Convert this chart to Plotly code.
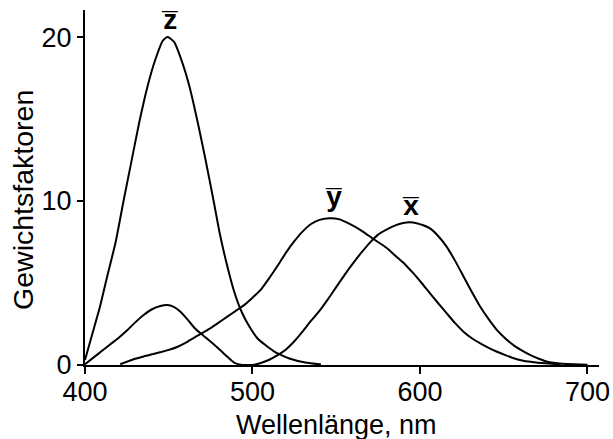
import plotly.graph_objects as go

# Wavelengths (nm) and weights
z_wl = [400, 404.1, 408.8, 413.5, 418.3, 423.0, 427.7, 432.4, 437.1, 441.9, 446.6, 449.4, 453.2,
        457.9, 462.6, 467.3, 472.0, 476.8, 480.5, 484.3, 489.0, 493.7, 498.4, 503.2, 507.9, 512.6,
        517.3, 522.0, 531.5, 540.9]
z_val = [0.3, 1.8, 3.5, 5.5, 7.5, 10.0, 12.4, 14.8, 16.9, 18.6, 19.8, 20.0, 19.7, 18.5, 16.9, 14.8,
         12.5, 10.0, 8.0, 6.3, 4.5, 3.2, 2.3, 1.6, 1.2, 0.85, 0.6, 0.4, 0.15, 0.03]

x_wl = [400, 405, 410, 415, 420, 425, 430, 435, 440, 445, 449, 453, 457, 461, 465, 469, 473, 477,
        481, 485, 489, 493, 497, 500, 505, 510, 515, 520, 525, 530, 535, 540, 545, 550, 555, 560,
        565, 570, 575, 580, 585, 590, 594, 598, 602, 606, 611, 616, 621, 626, 631, 636, 641, 646,
        651, 656, 661, 666, 671, 676, 682, 688, 700]
x_val = [0.05, 0.45, 0.85, 1.25, 1.65, 2.1, 2.6, 3.05, 3.4, 3.6, 3.66, 3.55, 3.25, 2.8, 2.3, 1.93,
         1.6, 1.25, 0.88, 0.5, 0.15, 0.02, 0.0, 0.0, 0.12, 0.32, 0.6, 0.95, 1.45, 2.05, 2.7, 3.3,
         4.0, 4.75, 5.5, 6.2, 6.85, 7.45, 7.95, 8.25, 8.5, 8.66, 8.7, 8.65, 8.52, 8.33, 7.85, 7.2,
         6.35, 5.4, 4.45, 3.55, 2.8, 2.13, 1.62, 1.2, 0.88, 0.6, 0.38, 0.2, 0.11, 0.06, 0.02]

y_wl = [421, 425, 430, 435, 440, 445, 450, 455, 460, 465, 470, 475, 480, 485, 490, 495, 500, 505,
        510, 515, 520, 525, 530, 535, 540, 546, 552, 558, 565, 572, 580, 586, 591, 596, 601, 606,
        611, 616, 621, 626, 631, 636, 641, 646, 651, 656, 661, 666, 675, 684]
y_val = [0.05, 0.2, 0.38, 0.52, 0.66, 0.78, 0.92, 1.1, 1.35, 1.65, 1.95, 2.25, 2.6, 2.95, 3.3, 3.65,
         4.1, 4.6, 5.3, 6.05, 6.85, 7.55, 8.15, 8.6, 8.85, 8.95, 8.88, 8.6, 8.2, 7.7, 7.15, 6.6,
         6.15, 5.6, 5.0, 4.37, 3.75, 3.15, 2.55, 2.03, 1.63, 1.32, 1.05, 0.81, 0.6, 0.41, 0.28,
         0.2, 0.1, 0.04]

x_ticks = [400, 500, 600, 700]
y_ticks = [0, 10, 20]

labels = [("z\u0305", 450.5, 21.05), ("y\u0305", 548.5, 10.25), ("x\u0305", 594.5, 9.75)]

FONT = "Liberation Sans, Arial, sans-serif"
L, R, T, B = 85, 14, 10, 74
W, H = 613, 439

fig = go.Figure()
for wl, val in [(z_wl, z_val), (x_wl, x_val), (y_wl, y_val)]:
    fig.add_trace(go.Scatter(x=wl, y=val, mode="lines",
                             line=dict(color="black", width=2, shape="spline", smoothing=0.6),
                             showlegend=False, hoverinfo="skip", cliponaxis=False))

for txt, lx, ly in labels:
    fig.add_annotation(x=lx, y=ly, text="<b>" + txt + "</b>", showarrow=False,
                       font=dict(family=FONT, size=28, color="black"))

fig.add_annotation(xref="paper", yref="paper", x=0.49, y=-0.168,
                   text="Wellenlänge, nm", showarrow=False, yanchor="middle", xanchor="center",
                   font=dict(family=FONT, size=27, color="black"))
fig.add_annotation(xref="paper", yref="paper", x=-0.1206, y=0.465,
                   text="Gewichtsfaktoren", showarrow=False, textangle=-90,
                   yanchor="middle", xanchor="center",
                   font=dict(family=FONT, size=28.5, color="black"))

fig.update_layout(
    width=W, height=H,
    margin=dict(l=L, r=R, t=T, b=B, autoexpand=False),
    paper_bgcolor="white", plot_bgcolor="white",
    font=dict(family=FONT, size=27, color="black"),
    xaxis=dict(range=[400, 706.9], tickvals=x_ticks, ticks="outside", ticklen=7, tickwidth=2,
               tickcolor="black", showline=True, linecolor="black", linewidth=2,
               showgrid=False, zeroline=False, automargin=False, ticklabelstandoff=-5),
    yaxis=dict(range=[0, 21.65], tickvals=y_ticks, ticks="outside", ticklen=6, tickwidth=2,
               tickcolor="black", showline=True, linecolor="black", linewidth=2,
               showgrid=False, zeroline=False, automargin=False),
)

fig.write_html("out.html", config={"displayModeBar": False},
               post_script="document.body.style.margin='0';document.body.style.overflow='hidden';")
